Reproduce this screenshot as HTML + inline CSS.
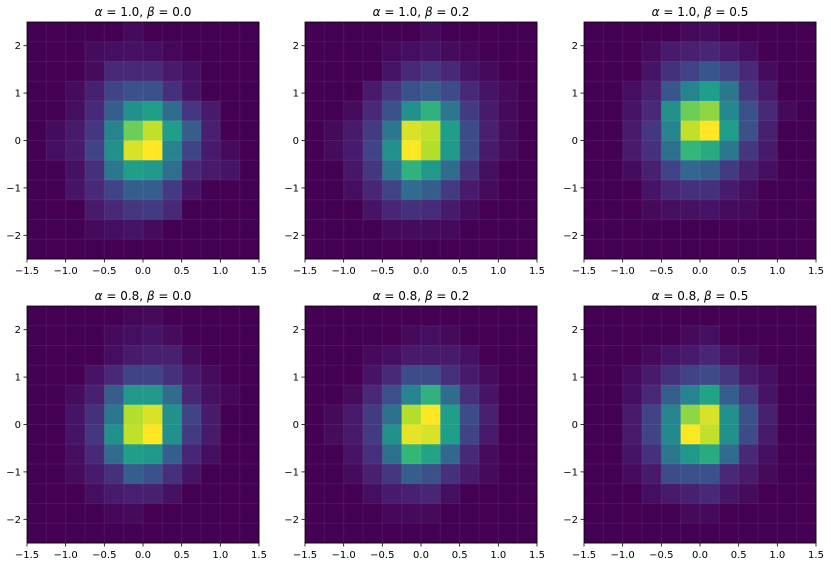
<!DOCTYPE html>
<html><head><meta charset="utf-8"><style>
html,body{margin:0;padding:0;background:#fff;}
svg{display:block;font-family:"DejaVu Sans","Liberation Sans",sans-serif;}
</style></head><body>
<svg id="fig" width="831" height="567" viewBox="0 0 831 567" xmlns="http://www.w3.org/2000/svg"></svg>
<script>
const titles=[["1.0","0.0"],["1.0","0.2"],["1.0","0.5"],["0.8","0.0"],["0.8","0.2"],["0.8","0.5"]];
const xTicks=[-1.5,-1.0,-0.5,0.0,0.5,1.0,1.5];
const yTicks=[-2,-1,0,1,2];
const xEdges=[-1.5,1.5], yEdges=[-2.5,2.5];
const p1=[
"0 0 0 0 0 .04 0 0 0 0 0 0",
"0 0 0 .05 .06 .07 .06 .03 0 0 0 0",
"0 0 0 .05 .15 .15 .15 .1 .06 0 0 0",
"0 0 .05 .12 .25 .3 .3 .18 .08 0 0 0",
"0 0 .06 .15 .35 .55 .6 .4 .2 .1 0 0",
"0 .05 .1 .2 .5 .8 .92 .6 .35 .12 0 0",
"0 .06 .1 .25 .55 .95 1 .5 .25 .1 .05 0",
"0 0 .07 .18 .45 .6 .58 .42 .15 .1 .08 0",
"0 0 .08 .15 .25 .35 .35 .22 .08 0 0 0",
"0 0 0 .1 .15 .2 .22 .15 0 0 0 0",
"0 0 0 .04 .06 .08 .05 0 0 0 0 0",
"0 0 0 0 0 0 0 0 0 0 0 0"];
const p2=[
"0 0 0 0 0 0 .04 0 0 0 0 0",
"0 0 0 0 .04 .06 .08 .05 .03 0 0 0",
"0 0 0 0 .08 .15 .2 .15 .08 .04 0 0",
"0 0 0 .1 .2 .3 .35 .28 .15 .08 .04 0",
"0 0 .05 .15 .3 .55 .68 .45 .22 .1 .04 0",
"0 .04 .1 .22 .45 .95 .92 .6 .28 .12 .05 0",
"0 .05 .1 .25 .55 1 .9 .58 .28 .1 .05 0",
"0 0 .09 .2 .45 .68 .58 .4 .18 .06 0 0",
"0 0 .06 .14 .25 .4 .35 .22 .1 .05 0 0",
"0 0 0 .08 .14 .18 .16 .1 .05 0 0 0",
"0 0 0 0 .04 .05 .05 .04 0 0 0 0",
"0 0 0 0 0 0 0 0 0 0 0 0"];
const p3=[
"0 0 0 0 0 .04 .05 0 0 0 0 0",
"0 0 0 .05 .1 .12 .14 .1 .06 0 0 0",
"0 0 0 .08 .18 .25 .32 .25 .15 .05 0 0",
"0 0 .06 .12 .32 .5 .6 .45 .2 .1 0 0",
"0 0 .08 .15 .55 .8 .85 .52 .3 .15 .04 0",
"0 0 .1 .2 .5 .92 1 .6 .3 .12 0 0",
"0 0 .1 .18 .42 .7 .65 .45 .2 .1 0 0",
"0 0 .05 .12 .25 .38 .35 .22 .12 .06 0 0",
"0 0 0 .08 .14 .18 .18 .1 .06 0 0 0",
"0 0 0 .04 .06 .07 .08 .05 .04 0 0 0",
"0 0 0 0 0 0 0 0 0 0 0 0",
"0 0 0 0 0 0 0 0 0 0 0 0"];
const p4=[
"0 0 0 0 0 .03 .04 0 0 0 0 0",
"0 0 0 0 .04 .06 .08 .05 0 0 0 0",
"0 0 0 0 .06 .1 .12 .12 .05 0 0 0",
"0 0 0 .08 .15 .25 .25 .18 .1 .05 0 0",
"0 0 .05 .12 .35 .58 .58 .4 .14 .07 .03 0",
"0 0 .08 .18 .45 .9 .95 .55 .25 .1 0 0",
"0 0 .08 .2 .55 .92 1 .55 .22 .1 0 0",
"0 0 .06 .15 .4 .6 .58 .35 .14 .06 0 0",
"0 0 .05 .1 .18 .35 .3 .18 .08 0 0 0",
"0 0 0 .06 .1 .12 .12 .07 0 0 0 0",
"0 0 0 0 .03 .04 0 0 0 0 0 0",
"0 0 0 0 0 0 0 0 0 0 0 0"];
const p5=[
"0 0 0 0 0 0 0 0 0 0 0 0",
"0 0 0 0 0 .04 .06 .04 0 0 0 0",
"0 0 0 .04 .06 .1 .1 .1 .07 0 0 0",
"0 0 0 .08 .15 .28 .28 .18 .1 .05 0 0",
"0 0 .05 .15 .3 .5 .68 .4 .18 .08 0 0",
"0 .04 .1 .22 .42 .9 1 .6 .28 .12 0 0",
"0 .05 .1 .22 .55 .97 .95 .6 .25 .1 0 0",
"0 0 .08 .18 .42 .7 .62 .38 .15 .05 0 0",
"0 0 .05 .12 .2 .35 .3 .18 .1 .04 0 0",
"0 0 0 .06 .1 .12 .14 .06 0 0 0 0",
"0 0 0 0 .03 .04 .04 0 0 0 0 0",
"0 0 0 0 0 0 0 0 0 0 0 0"];
const p6=[
"0 0 0 0 0 0 0 0 0 0 0 0",
"0 0 0 0 0 .04 .06 0 0 0 0 0",
"0 0 0 .04 .08 .1 .14 .08 .05 0 0 0",
"0 0 .05 .1 .18 .25 .28 .2 .1 .06 0 0",
"0 0 .06 .15 .35 .5 .62 .35 .2 .08 0 0",
"0 0 .1 .25 .5 .85 .95 .55 .3 .12 0 0",
"0 0 .1 .25 .52 1 .92 .55 .28 .1 0 0",
"0 0 .08 .18 .45 .58 .65 .4 .15 .06 0 0",
"0 0 .05 .1 .28 .3 .3 .15 .1 .04 0 0",
"0 0 0 .06 .1 .12 .15 .08 .05 0 0 0",
"0 0 0 0 0 .04 .04 0 0 0 0 0",
"0 0 0 0 0 0 0 0 0 0 0 0"];
const panels=[p1,p2,p3,p4,p5,p6];

const VIR=[[68,1,84],[72,40,120],[62,73,137],[49,104,142],[38,130,142],[31,158,137],[53,183,121],[110,206,88],[181,222,43],[253,231,37]];
function viridis(t){t=Math.max(0,Math.min(1,Math.pow(t,1.15)));const s=t*(VIR.length-1),i=Math.min(VIR.length-2,Math.floor(s)),f=s-i;
const c=VIR[i].map((v,k)=>Math.round(v+(VIR[i+1][k]-v)*f));return `rgb(${c[0]},${c[1]},${c[2]})`;}
const NS="http://www.w3.org/2000/svg",svg=document.getElementById('fig');
function mk(tag,attrs,parent){const e=document.createElementNS(NS,tag);for(const k in attrs)e.setAttribute(k,attrs[k]);(parent||svg).appendChild(e);return e;}
const lefts=[27,305,584],tops=[22,306],W=232,H=237;
const fmt=v=>(v<0?"\u2212":"")+Math.abs(v).toFixed(1);
panels.forEach((rows,pi)=>{
  const L=lefts[pi%3],T=tops[Math.floor(pi/3)];
  const sx=v=>L+(v-xEdges[0])/(xEdges[1]-xEdges[0])*W;
  const sy=v=>T+(yEdges[1]-v)/(yEdges[1]-yEdges[0])*H;
  const g=mk('g',{});
  
  
  const grid=rows.map(r=>r.trim().split(/\s+/).map(Number));
  const nr=grid.length,nc=grid[0].length;
  const dx=(xEdges[1]-xEdges[0])/nc,dy=(yEdges[1]-yEdges[0])/nr;
  grid.forEach((row,ri)=>row.forEach((v,ci)=>{
    const x0=sx(xEdges[0]+ci*dx),x1=sx(xEdges[0]+(ci+1)*dx),y0=sy(yEdges[1]-ri*dy),y1=sy(yEdges[1]-(ri+1)*dy);
    const r=mk('rect',{x:x0,y:y0,width:x1-x0+0.4,height:y1-y0+0.4,fill:viridis(v)},g);
    
    
  }));
  for(let i=1;i<nc;i++){const x=sx(xEdges[0]+i*dx);mk('line',{x1:x,x2:x,y1:T,y2:T+H,stroke:'rgba(255,255,255,0.07)','stroke-width':1},g);}
  for(let i=1;i<nr;i++){const y=sy(yEdges[0]+i*dy);mk('line',{x1:L,x2:L+W,y1:y,y2:y,stroke:'rgba(255,255,255,0.07)','stroke-width':1},g);}
  mk('rect',{x:L,y:T,width:W,height:H,fill:'none',stroke:'#000','stroke-width':0.8},g);
  xTicks.forEach(v=>{const x=sx(v);mk('line',{x1:x,x2:x,y1:T+H,y2:T+H+3.5,stroke:'#000','stroke-width':0.8},g);
    const t=mk('text',{x:x,y:T+H+15,'text-anchor':'middle','font-size':10,fill:'#000'},g);t.textContent=fmt(v);
    
    });
  yTicks.forEach(v=>{const y=sy(v);mk('line',{x1:L-3.5,x2:L,y1:y,y2:y,stroke:'#000','stroke-width':0.8},g);
    const t=mk('text',{x:L-6,y:y+3.5,'text-anchor':'end','font-size':10,fill:'#000'},g);t.textContent=(v<0?"\u2212":"")+Math.abs(v);
    
    });
  const tt=mk('text',{x:L+W/2,y:T-6,'text-anchor':'middle','font-size':12,fill:'#000'},g);
  tt.innerHTML=`<tspan font-style="italic">α</tspan> = ${titles[pi][0]}, <tspan font-style="italic">β</tspan> = ${titles[pi][1]}`;
  
  
});
</script>
</body></html>
